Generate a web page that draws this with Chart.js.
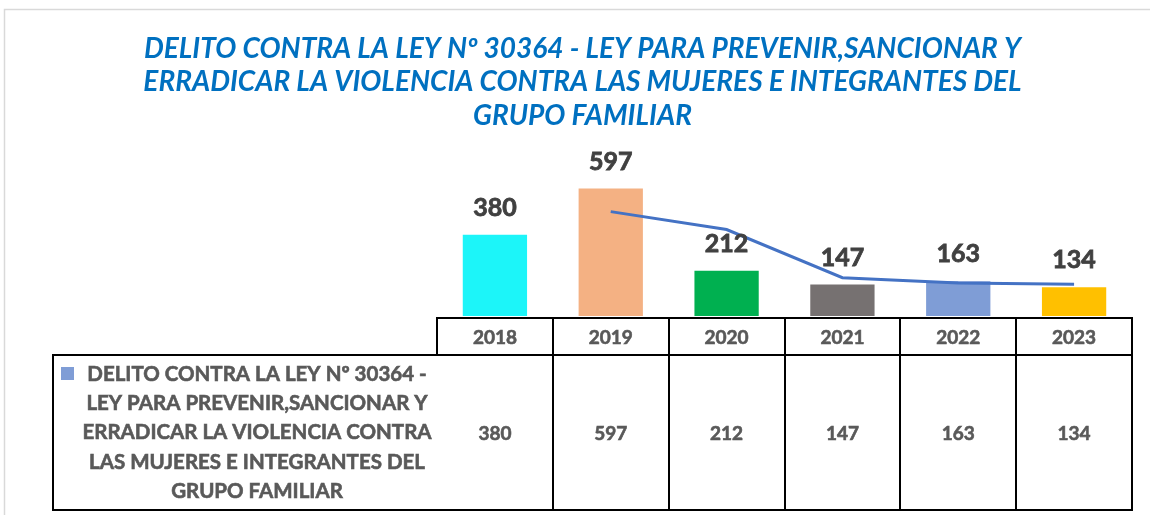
<!DOCTYPE html>
<html>
<head>
<meta charset="utf-8">
<script src="https://cdn.jsdelivr.net/npm/chart.js@4.4.1/dist/chart.umd.min.js"></script>
<style>
  html, body { margin: 0; padding: 0; background: #fff; }
  #wrap { width: 1150px; height: 515px; position: relative; }
</style>
</head>
<body>
<div id="wrap"><canvas id="delitosChart"></canvas></div>
<script>
// Datos
const years = ['2018', '2019', '2020', '2021', '2022', '2023'];
const delitos = [380, 597, 212, 147, 163, 134];
// línea de tendencia (media móvil de 2 periodos)
const tendencia = [null, 488.5, 404.5, 179.5, 155, 148.5];
const barColors = ['#1CF5F9', '#F4B183', '#00B050', '#767171', '#7F9DD6', '#FFC000'];
const titleLines = [
    'DELITO CONTRA LA LEY Nº 30364 - LEY PARA PREVENIR,SANCIONAR Y',
    'ERRADICAR LA VIOLENCIA CONTRA LAS MUJERES E INTEGRANTES DEL',
    'GRUPO FAMILIAR'
];
const legendLines = [
    'DELITO CONTRA LA LEY Nº 30364 -',
    'LEY PARA PREVENIR,SANCIONAR Y',
    'ERRADICAR LA VIOLENCIA CONTRA',
    'LAS MUJERES E INTEGRANTES DEL',
    'GRUPO FAMILIAR'
];

const FONT = 'Lato, "Open Sans", sans-serif';
const GRAY = '#595959';

// texto un poco más grueso (parecido a Calibri negrita)
function boldText(ctx, txt, x, y, w) {
    ctx.lineWidth = w;
    ctx.strokeStyle = ctx.fillStyle;
    ctx.strokeText(txt, x, y);
    ctx.fillText(txt, x, y);
}

// marco gris del gráfico
const framePlugin = {
    id: 'frame',
    beforeDraw(chart) {
        const ctx = chart.ctx;
        ctx.save();
        ctx.strokeStyle = '#D9D9D9';
        ctx.lineWidth = 1.5;
        ctx.beginPath();
        ctx.moveTo(4.5, chart.height);
        ctx.lineTo(4.5, 9.5);
        ctx.lineTo(chart.width, 9.5);
        ctx.stroke();
        ctx.restore();
    }
};

// etiquetas de datos sobre las barras
const labelsPlugin = {
    id: 'barLabels',
    afterDatasetsDraw(chart) {
        const ctx = chart.ctx;
        const meta = chart.getDatasetMeta(1);
        ctx.save();
        ctx.font = 'bold 25px ' + FONT;
        ctx.fillStyle = '#404040';
        ctx.textAlign = 'center';
        ctx.textBaseline = 'middle';
        meta.data.forEach((bar, i) => {
            boldText(ctx, String(delitos[i]), bar.x, bar.y - 27, 0.8);
        });
        ctx.restore();
    }
};

// tabla de datos bajo el gráfico
const tablePlugin = {
    id: 'dataTable',
    afterDraw(chart) {
        const ctx = chart.ctx;
        const area = chart.chartArea;
        const xs = chart.scales.x;
        const colW = area.width / years.length;
        const hTop = area.bottom + 2, hBot = 355, dBot = 510, legLeft = 53;

        ctx.save();
        ctx.strokeStyle = '#000';
        ctx.lineWidth = 2;
        ctx.strokeRect(area.left, hTop, area.width, hBot - hTop);
        ctx.strokeRect(legLeft, hBot, area.right - legLeft, dBot - hBot);
        ctx.beginPath();
        for (let i = 1; i < years.length; i++) {
            const x = Math.round(area.left + i * colW);
            ctx.moveTo(x, hTop);
            ctx.lineTo(x, dBot);
        }
        ctx.stroke();

        ctx.fillStyle = GRAY;
        ctx.font = 'bold 19px ' + FONT;
        ctx.textAlign = 'center';
        ctx.textBaseline = 'middle';
        years.forEach((y, i) => {
            const cx = xs.getPixelForValue(i);
            boldText(ctx, y, cx, (hTop + hBot) / 2 + 1, 0.6);
            boldText(ctx, String(delitos[i]), cx, (hBot + dBot) / 2 + 1, 0.6);
        });

        // leyenda
        ctx.fillStyle = barColors[4];
        ctx.fillRect(61, 367, 13, 13);
        ctx.fillStyle = GRAY;
        ctx.font = 'bold 20.5px ' + FONT;
        legendLines.forEach((t, i) => {
            boldText(ctx, t, 257, 374 + i * 29.3, 0.6);
        });
        ctx.restore();
    }
};

const ctx1 = document.getElementById('delitosChart').getContext('2d');
new Chart(ctx1, {
    type: 'bar',
    data: {
        labels: years,
        datasets: [{
            type: 'line',
            label: 'Tendencia',
            data: tendencia,
            borderColor: '#4472C4',
            borderWidth: 3,
            pointRadius: 0,
            fill: false,
            tension: 0
        }, {
            label: legendLines.join(' '),
            data: delitos,
            backgroundColor: barColors,
            barPercentage: 0.555,
            categoryPercentage: 1
        }]
    },
    options: {
        responsive: true,
        maintainAspectRatio: false,
        animation: false,
        layout: {
            padding: { left: 33, right: 18, top: 0, bottom: 0 }
        },
        scales: {
            x: {
                grid: { display: false },
                border: { display: false },
                ticks: { display: false },
                afterFit(scale) { scale.height = 199; }
            },
            y: {
                min: 0,
                max: 820,
                grid: { display: false },
                border: { display: false },
                ticks: { display: false },
                afterFit(scale) { scale.width = 404; }
            }
        },
        plugins: {
            legend: { display: false },
            tooltip: { enabled: false },
            title: {
                display: true,
                text: titleLines,
                color: '#0070C0',
                font: { family: FONT, size: 28, weight: 'bold', style: 'italic', lineHeight: 1.2 },
                padding: { top: 32, bottom: 8 }
            }
        }
    },
    plugins: [framePlugin, labelsPlugin, tablePlugin]
});
</script>
</body>
</html>
